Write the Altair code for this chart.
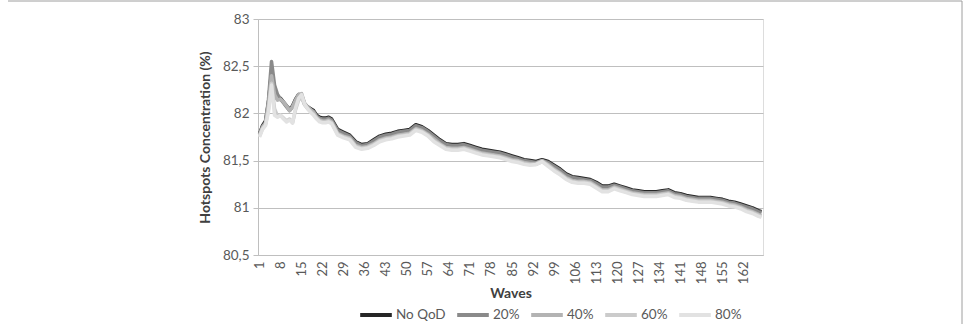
import altair as alt
import pandas as pd

waves = list(range(1, 25)) + list(range(25, 168, 2)) + [168]

no_qod = [81.78, 81.87, 81.92, 82.12, 82.45, 82.22, 82.15, 82.16, 82.12, 82.08, 82.04, 82.08,
          82.15, 82.20, 82.19, 82.10, 82.07, 82.05, 82.03, 81.98, 81.96, 81.95, 81.95, 81.96,
          81.94, 81.83, 81.80, 81.77, 81.70, 81.67, 81.68, 81.72, 81.76, 81.78, 81.79, 81.81,
          81.82, 81.83, 81.88, 81.86, 81.82, 81.77, 81.72, 81.68, 81.67, 81.67, 81.68, 81.66,
          81.64, 81.62, 81.61, 81.60, 81.59, 81.57, 81.55, 81.53, 81.51, 81.50, 81.49, 81.51,
          81.49, 81.45, 81.41, 81.36, 81.33, 81.32, 81.31, 81.30, 81.27, 81.23, 81.23, 81.25,
          81.23, 81.21, 81.19, 81.18, 81.17, 81.17, 81.17, 81.18, 81.19, 81.16, 81.15, 81.13,
          81.12, 81.11, 81.11, 81.11, 81.10, 81.09, 81.07, 81.06, 81.04, 81.02, 81.00, 80.97,
          80.96]

p20 = [81.78, 81.86, 81.90, 82.15, 82.55, 82.30, 82.20, 82.15, 82.11, 82.07, 82.03, 82.07,
       82.14, 82.19, 82.19, 82.10, 82.06, 82.04, 82.02, 81.97, 81.95, 81.94, 81.94, 81.95,
       81.93, 81.82, 81.79, 81.76, 81.69, 81.66, 81.67, 81.71, 81.75, 81.77, 81.78, 81.80,
       81.81, 81.82, 81.87, 81.85, 81.81, 81.76, 81.71, 81.67, 81.66, 81.66, 81.67, 81.65,
       81.63, 81.61, 81.60, 81.59, 81.58, 81.56, 81.54, 81.52, 81.50, 81.49, 81.48, 81.50,
       81.48, 81.44, 81.40, 81.35, 81.32, 81.31, 81.30, 81.29, 81.26, 81.22, 81.22, 81.24,
       81.22, 81.20, 81.18, 81.17, 81.16, 81.16, 81.16, 81.17, 81.18, 81.15, 81.14, 81.12,
       81.11, 81.10, 81.10, 81.10, 81.09, 81.08, 81.06, 81.05, 81.03, 81.01, 80.99, 80.96,
       80.95]

p40 = [81.77, 81.85, 81.90, 82.10, 82.40, 82.20, 82.14, 82.15, 82.12, 82.08, 82.03, 82.07,
       82.14, 82.20, 82.21, 82.11, 82.07, 82.04, 82.01, 81.96, 81.93, 81.92, 81.92, 81.93,
       81.91, 81.79, 81.76, 81.74, 81.66, 81.64, 81.65, 81.68, 81.72, 81.74, 81.75, 81.77,
       81.78, 81.79, 81.84, 81.82, 81.78, 81.73, 81.68, 81.64, 81.63, 81.63, 81.64, 81.62,
       81.60, 81.58, 81.57, 81.56, 81.55, 81.53, 81.51, 81.50, 81.48, 81.47, 81.47, 81.50,
       81.46, 81.41, 81.37, 81.32, 81.29, 81.28, 81.28, 81.27, 81.23, 81.19, 81.19, 81.22,
       81.20, 81.18, 81.16, 81.15, 81.14, 81.14, 81.14, 81.15, 81.16, 81.13, 81.12, 81.10,
       81.09, 81.08, 81.08, 81.08, 81.07, 81.06, 81.04, 81.03, 81.01, 80.98, 80.96, 80.93,
       80.92]

p60 = [81.76, 81.84, 81.88, 82.05, 82.32, 82.05, 81.97, 81.98, 81.95, 81.92, 81.94, 81.90,
       82.04, 82.14, 82.17, 82.09, 82.05, 82.02, 81.99, 81.95, 81.92, 81.91, 81.91, 81.92,
       81.90, 81.78, 81.75, 81.73, 81.65, 81.63, 81.64, 81.67, 81.71, 81.73, 81.74, 81.76,
       81.77, 81.78, 81.83, 81.81, 81.77, 81.71, 81.67, 81.63, 81.62, 81.62, 81.63, 81.61,
       81.59, 81.57, 81.56, 81.55, 81.54, 81.52, 81.50, 81.49, 81.47, 81.46, 81.46, 81.49,
       81.45, 81.40, 81.36, 81.31, 81.28, 81.27, 81.27, 81.26, 81.22, 81.18, 81.18, 81.21,
       81.19, 81.17, 81.15, 81.14, 81.13, 81.13, 81.13, 81.14, 81.15, 81.12, 81.11, 81.09,
       81.08, 81.07, 81.07, 81.07, 81.06, 81.05, 81.03, 81.02, 81.00, 80.97, 80.95, 80.92,
       80.91]

p80 = [81.75, 81.83, 81.87, 82.02, 82.30, 81.98, 81.96, 81.98, 81.94, 81.91, 81.93, 81.90,
       82.06, 82.16, 82.20, 82.10, 82.05, 82.01, 81.98, 81.94, 81.91, 81.90, 81.90, 81.91,
       81.89, 81.77, 81.74, 81.72, 81.64, 81.62, 81.63, 81.66, 81.70, 81.72, 81.73, 81.75,
       81.76, 81.77, 81.82, 81.80, 81.76, 81.70, 81.66, 81.62, 81.61, 81.61, 81.62, 81.60,
       81.58, 81.56, 81.55, 81.54, 81.53, 81.51, 81.49, 81.48, 81.46, 81.45, 81.46, 81.49,
       81.44, 81.39, 81.35, 81.30, 81.27, 81.26, 81.26, 81.25, 81.21, 81.17, 81.17, 81.20,
       81.18, 81.16, 81.14, 81.13, 81.12, 81.12, 81.12, 81.13, 81.14, 81.11, 81.10, 81.08,
       81.07, 81.06, 81.06, 81.06, 81.05, 81.04, 81.02, 81.01, 80.99, 80.96, 80.94, 80.91,
       80.90]

series_names = ["No QoD", "20%", "40%", "60%", "80%"]
series_colors = ["#262626", "#8a8a8a", "#b3b3b3", "#cbcbcb", "#e2e2e2"]
x_ticks = list(range(1, 163, 7))
y_ticks = [80.5, 81, 81.5, 82, 82.5, 83]

rows = []
for si, (name, vals) in enumerate(zip(series_names, [no_qod, p20, p40, p60, p80])):
    for w, v in zip(waves, vals):
        rows.append({"wave": w, "value": v, "series": name, "si": si})
df = pd.DataFrame(rows)

FONT = "Lato"

x_enc = alt.X("wave:Q",
              scale=alt.Scale(domain=[0.5, 168.5], nice=False, zero=False),
              axis=alt.Axis(values=x_ticks, labelAngle=-90, title="Waves", grid=False,
                            ticks=False, labelPadding=6, labelFontSize=13,
                            labelColor="#595959", labelFont=FONT,
                            titleFont=FONT, titleFontSize=14, titleFontWeight="bold",
                            titleColor="#404040", titlePadding=3,
                            domainColor="#bfbfbf", labelFlush=False, labelOverlap=False))
y_enc = alt.Y("value:Q",
              scale=alt.Scale(domain=[80.5, 83], nice=False, zero=False),
              axis=alt.Axis(values=y_ticks,
                            labelExpr="replace(format(datum.value, ''), '.', ',')",
                            title="Hotspots Concentration (%)", grid=True,
                            gridColor="#bfbfbf", domainColor="#bfbfbf", tickColor="#bfbfbf",
                            tickSize=5, labelPadding=4, labelFontSize=13.5,
                            labelColor="#595959", labelFont=FONT,
                            titleFont=FONT, titleFontSize=14, titleFontWeight="bold",
                            titleColor="#404040", titlePadding=10))
color_enc = alt.Color("series:N",
                      scale=alt.Scale(domain=series_names, range=series_colors),
                      legend=alt.Legend(orient="none", legendX=100, legendY=278,
                                        direction="horizontal", title=None,
                                        symbolType="stroke", symbolSize=1000,
                                        symbolStrokeWidth=4, labelFontSize=13.5,
                                        labelFont=FONT, labelColor="#595959",
                                        labelOffset=2, columnPadding=3,
                                        gridAlign="none"))

layers = []
for name in series_names:
    layers.append(
        alt.Chart(df).transform_filter(alt.datum.series == name)
        .mark_line(strokeWidth=3.5, strokeJoin="round")
        .encode(x=x_enc, y=y_enc, color=color_enc)
    )

frame_top = alt.Chart(pd.DataFrame({"a": [0]})).mark_rule(color="#9e9e9e", strokeWidth=1).encode(
    x=alt.value(-250), x2=alt.value(704), y=alt.value(-18))
frame_right = alt.Chart(pd.DataFrame({"a": [0]})).mark_rule(color="#9e9e9e", strokeWidth=1).encode(
    x=alt.value(704), y=alt.value(-18), y2=alt.value(320))

chart = alt.layer(*layers, frame_top, frame_right).properties(
    width=505, height=236,
    autosize=alt.AutoSizeParams(type="none"),
    padding={"left": 258, "top": 19, "right": 203, "bottom": 69},
).configure_view(stroke=None).configure(background="white")

chart.save("out.html", embed_options={"renderer": "svg", "actions": False})
